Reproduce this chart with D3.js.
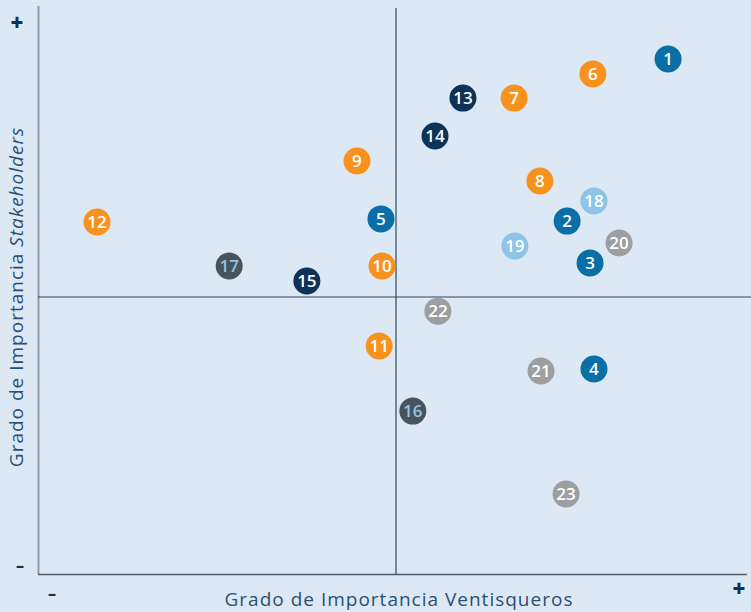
<!DOCTYPE html>
<html lang="es">
<head>
    <meta charset="UTF-8">
    <title>Matriz de materialidad</title>
    <script src="https://d3js.org/d3.v7.min.js"></script>
    <style>
        body { margin: 0; background: #dce9f5; }
        svg { display: block; font-family: "Open Sans", "Noto Sans", sans-serif; }
    </style>
</head>
<body>
    <svg width="751" height="612"></svg>
    <script>
        // temas numerados y su posicion (x: Ventisqueros, y: Stakeholders)
        const temas = ["1","2","3","4","5","6","7","8","9","10","11","12","13","14","15","16","17","18","19","20","21","22","23"];
        const xVals = [7.6, 4.78, 5.42, 5.53, -0.42, 5.5, 3.3, 4.02, -1.09, -0.39, -0.47, -8.35, 1.87, 1.09, -2.49, 0.47, -4.66, 5.53, 3.32, 6.23, 4.05, 1.17, 4.75];
        const yVals = [8.59, 2.74, 1.23, -2.6, 2.82, 8.05, 7.18, 4.19, 4.91, 1.12, -1.77, 2.71, 7.18, 5.81, 0.58, -4.12, 1.12, 3.47, 1.84, 1.95, -2.67, -0.51, -7.11];
        const grupos = ["azul","azul","azul","azul","azul","naranja","naranja","naranja","naranja","naranja","naranja","naranja","marino","marino","marino","gris oscuro","gris oscuro","celeste","celeste","gris","gris","gris","gris"];

        const fillColor = {
            "azul": "#0a6ea7",
            "naranja": "#f7921e",
            "marino": "#0d3359",
            "gris oscuro": "#48535c",
            "celeste": "#8dc5e8",
            "gris": "#9d9e9f"
        };
        const textColor = { "gris oscuro": "#8dc5e8" };

        const svg = d3.select("svg");

        const x = d3.scaleLinear().domain([-10, 10]).range([38, 754]);
        const y = d3.scaleLinear().domain([-10, 10]).range([574, 20]);

        // ejes exteriores
        svg.append("line")
            .attr("x1", 38.5).attr("x2", 38.5).attr("y1", 6).attr("y2", 574)
            .attr("stroke", "#8e9dab").attr("stroke-width", 2);
        svg.append("line")
            .attr("x1", 38).attr("x2", 747).attr("y1", 574.5).attr("y2", 574.5)
            .attr("stroke", "#4d5c68").attr("stroke-width", 1.5);

        // cuadrantes
        svg.append("line")
            .attr("x1", x(0)).attr("x2", x(0)).attr("y1", 8).attr("y2", 574)
            .attr("stroke", "#2c4760").attr("stroke-width", 1.2);
        svg.append("line")
            .attr("x1", 38).attr("x2", 751).attr("y1", y(0)).attr("y2", y(0))
            .attr("stroke", "#2c4760").attr("stroke-width", 1.2);

        // signos + / -
        const signos = [
            { t: "+", x: 17, y: 31 },
            { t: "\u2013", x: 20, y: 571 },
            { t: "\u2013", x: 52, y: 599 },
            { t: "+", x: 739, y: 597 }
        ];
        svg.selectAll(".signo")
            .data(signos)
            .enter().append("text")
            .attr("class", "signo")
            .attr("x", d => d.x).attr("y", d => d.y)
            .attr("text-anchor", "middle")
            .attr("font-size", d => d.t === "+" ? 22 : 16)
            .attr("font-weight", 800)
            .attr("fill", "#0d3359")
            .text(d => d.t);

        // titulos de ejes
        svg.append("text")
            .attr("x", 399).attr("y", 606)
            .attr("text-anchor", "middle")
            .attr("font-size", 19)
            .attr("letter-spacing", "1")
            .attr("fill", "#2b4f73")
            .text("Grado de Importancia Ventisqueros");

        const yt = svg.append("text")
            .attr("transform", "translate(23,297) rotate(-90)")
            .attr("text-anchor", "middle")
            .attr("font-size", 19)
            .attr("letter-spacing", "1")
            .attr("fill", "#2b4f73");
        yt.append("tspan").text("Grado de Importancia ");
        yt.append("tspan").attr("font-style", "italic").text("Stakeholders");

        // puntos
        const data = temas.map((t, i) => ({ t, x: xVals[i], y: yVals[i], g: grupos[i] }));

        const pts = svg.selectAll(".tema")
            .data(data)
            .enter().append("g")
            .attr("class", "tema")
            .attr("transform", d => `translate(${x(d.x)},${y(d.y)})`);

        pts.append("circle")
            .attr("r", 13.5)
            .attr("fill", d => fillColor[d.g]);

        pts.append("text")
            .attr("text-anchor", "middle")
            .attr("dy", "0.36em")
            .attr("font-size", 17)
            .attr("font-weight", 600)
            .attr("fill", d => textColor[d.g] || "#ffffff")
            .text(d => d.t);
    </script>
</body>
</html>
